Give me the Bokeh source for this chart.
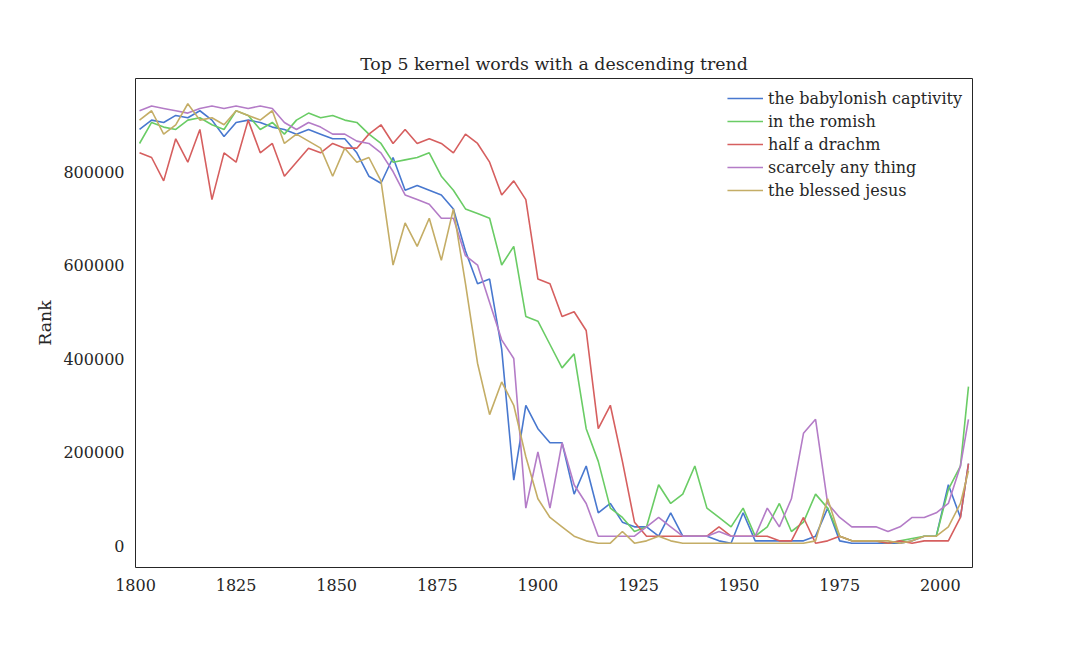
from bokeh.plotting import figure
from bokeh.models import FixedTicker, BasicTickFormatter, Legend, LegendItem
from bokeh.embed import file_html
from bokeh.resources import INLINE

years = list(range(1801, 2006, 3)) + [2007]

# ranks in thousands
babylonish = [890, 910, 905, 920, 915, 930, 910, 875, 905, 910,
              905, 895, 890, 880, 890, 880, 870, 870, 840, 790,
              775, 830, 760, 770, 760, 750, 720, 630, 560, 570,
              420, 140, 300, 250, 220, 220, 110, 170, 70, 90,
              50, 40, 40, 20, 70, 20, 20, 20, 10, 5,
              70, 10, 10, 10, 10, 10, 20, 80, 10, 5,
              5, 5, 5, 5, 10, 20, 20, 130, 60, 175]
romish = [860, 905, 895, 890, 910, 915, 900, 890, 930, 920,
          890, 905, 880, 910, 925, 915, 920, 910, 905, 880,
          860, 820, 825, 830, 840, 790, 760, 720, 710, 700,
          600, 640, 490, 480, 430, 380, 410, 250, 180, 80,
          60, 30, 40, 130, 90, 110, 170, 80, 60, 40,
          80, 20, 40, 90, 30, 50, 110, 80, 20, 10,
          10, 10, 5, 10, 15, 20, 20, 120, 170, 340]
drachm = [840, 830, 780, 870, 820, 890, 740, 840, 820, 910,
          840, 860, 790, 820, 850, 840, 860, 850, 850, 880,
          900, 860, 890, 860, 870, 860, 840, 880, 860, 820,
          750, 780, 740, 570, 560, 490, 500, 460, 250, 300,
          180, 50, 20, 20, 20, 20, 20, 20, 40, 20,
          20, 20, 20, 10, 10, 60, 5, 10, 20, 10,
          10, 10, 5, 10, 5, 10, 10, 10, 60, 175]
scarcely = [930, 940, 935, 930, 925, 935, 940, 935, 940, 935,
            940, 935, 905, 890, 905, 895, 880, 880, 865, 860,
            840, 800, 750, 740, 730, 700, 700, 620, 600, 520,
            440, 400, 80, 200, 80, 220, 130, 90, 20, 20,
            20, 20, 40, 60, 40, 20, 20, 20, 30, 20,
            20, 20, 80, 40, 100, 240, 270, 90, 60, 40,
            40, 40, 30, 40, 60, 60, 70, 90, 170, 270]
jesus = [910, 930, 880, 900, 945, 910, 915, 900, 930, 920,
         910, 930, 860, 880, 865, 850, 790, 850, 820, 830,
         780, 600, 690, 640, 700, 610, 720, 560, 390, 280,
         350, 300, 190, 100, 60, 40, 20, 10, 5, 5,
         30, 5, 10, 20, 10, 5, 5, 5, 5, 5,
         5, 5, 5, 5, 5, 5, 10, 100, 20, 10,
         10, 10, 10, 5, 10, 20, 20, 40, 90, 160]

series = [("the babylonish captivity", babylonish, "#4878cf"),
          ("in the romish", romish, "#6acc65"),
          ("half a drachm", drachm, "#d65f5f"),
          ("scarcely any thing", scarcely, "#b47cc7"),
          ("the blessed jesus", jesus, "#c4ad66")]

FONT = "DejaVu Serif"

p = figure(width=1064, height=632, output_backend="svg", toolbar_location=None,
           x_range=(1800, 2008), y_range=(-47000, 999000),
           min_border_left=135, min_border_right=92,
           min_border_top=78, min_border_bottom=65,
           title="Top 5 kernel words with a descending trend")
p.title.align = "center"
p.title.text_font = FONT
p.title.text_font_size = "13pt"
p.title.text_font_style = "normal"
p.title.text_color = "#262626"
p.xgrid.grid_line_color = None
p.ygrid.grid_line_color = None
p.outline_line_color = "#262626"
p.outline_line_alpha = 1

p.xaxis.ticker = FixedTicker(ticks=[1800, 1825, 1850, 1875, 1900, 1925, 1950, 1975, 2000])
p.yaxis.ticker = FixedTicker(ticks=[0, 200000, 400000, 600000, 800000])
p.yaxis.formatter = BasicTickFormatter(use_scientific=False)
p.yaxis.axis_label = "Rank"
for ax in (p.xaxis, p.yaxis):
    ax.axis_line_color = None
    ax.major_tick_line_color = None
    ax.minor_tick_line_color = None
    ax.major_label_text_font = FONT
    ax.major_label_text_font_size = "12pt"
    ax.major_label_text_color = "#262626"
    ax.axis_label_text_font = FONT
    ax.axis_label_text_font_size = "13pt"
    ax.axis_label_text_font_style = "normal"
    ax.axis_label_text_color = "#262626"

items = []
for name, vals, color in series:
    r = p.line(years, [v * 1000 for v in vals], color=color, line_width=1.6)
    items.append(LegendItem(label=name, renderers=[r]))

legend = Legend(items=items, location="top_right", border_line_color=None,
                background_fill_alpha=0, label_text_font=FONT,
                label_text_font_size="12pt", label_text_color="#262626",
                glyph_width=36, spacing=3, label_height=20)
p.add_layout(legend)

open("out.html", "w").write(file_html(p, INLINE))
